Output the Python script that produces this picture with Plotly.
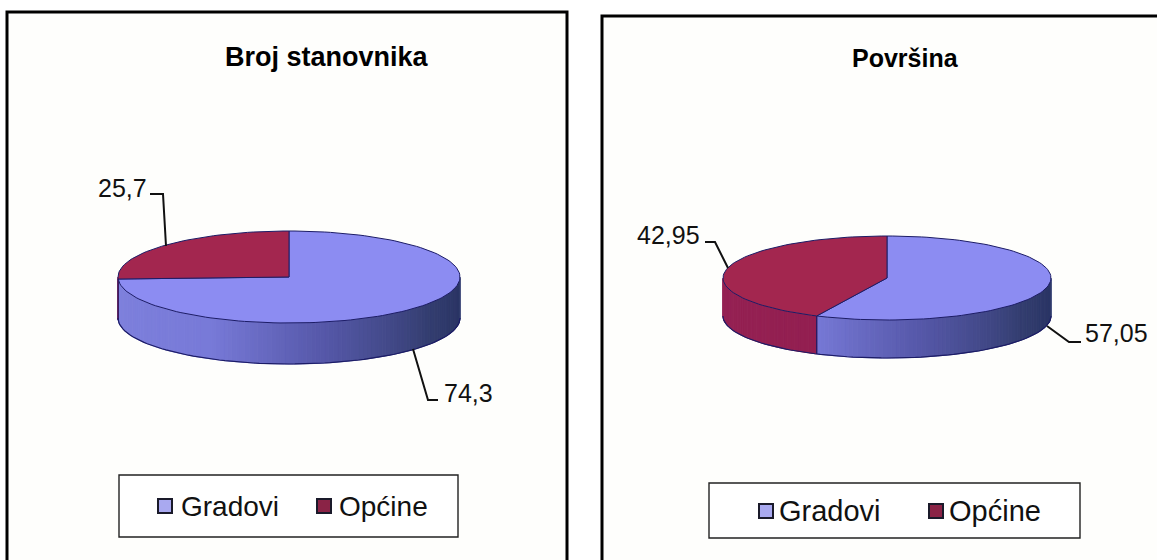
import math
import plotly.graph_objects as go

# Data
titles = ["Broj stanovnika", "Površina"]
categories = ["Gradovi", "Općine"]
gradovi = [74.3, 57.05]
opcine = [25.7, 42.95]
gradovi_labels = ["74,3", "57,05"]
opcine_labels = ["25,7", "42,95"]

# Styling / layout (pixel space of the page)
FONT = "Liberation Sans"
BLUE_TOP = "#8c8cf2"
RED_TOP = "#a3264f"
EDGE = "#1c1c66"
geom = [
    dict(cx=289, cy=277, rx=171, ry=46, depth=41),
    dict(cx=887, cy=278, rx=164, ry=42, depth=38),
]
frames = [
    dict(x0=7, y0=12, x1=567, y1=580),
    dict(x0=602, y0=16, x1=1180, y1=580),
]
title_pos = [(327, 57), (905, 58)]
title_font = [27, 25]
legend_boxes = [
    dict(x0=119, y0=475, x1=458, y1=537),
    dict(x0=709, y0=483, x1=1080, y1=538),
]
legend_items = [
    [(165, 506, 179), (324, 506, 337)],
    [(766, 511, 777), (936, 511, 947)],
]
legend_font = [28, 29]
opcine_leader = [([150, 163, 166], [194, 194, 246]), ([705, 715, 728], [242, 242, 268])]
gradovi_leader = [([413, 428, 438], [349, 400, 400]), ([1047, 1069, 1081], [326, 342, 342])]
opcine_text = [(122, 188), (668, 235)]
gradovi_text = [(468, 393), (1116, 333)]


def pt(g, deg, dy=0):
    a = math.radians(deg)
    return g["cx"] + g["rx"] * math.sin(a), g["cy"] - g["ry"] * math.cos(a) + dy


def arc(g, d0, d1, dy=0, step=2.0):
    n = max(2, int(abs(d1 - d0) / step) + 1)
    return [pt(g, d0 + (d1 - d0) * i / (n - 1), dy) for i in range(n)]


def lerp(stops, t):
    for (t0, c0), (t1, c1) in zip(stops, stops[1:]):
        if t <= t1:
            f = (t - t0) / (t1 - t0)
            return "rgb(%d,%d,%d)" % tuple(c0[i] + (c1[i] - c0[i]) * f for i in range(3))
    return "rgb(%d,%d,%d)" % stops[-1][1]


blue_side = [(0.0, (128, 130, 222)), (0.35, (120, 122, 216)), (0.55, (88, 90, 172)),
             (0.8, (52, 62, 112)), (0.95, (42, 52, 100)), (1.0, (70, 80, 130))]
red_side = [(0.0, (150, 34, 84)), (0.5, (146, 30, 80)), (1.0, (120, 26, 66))]

fig = go.Figure()


def poly(points, color, line=None, width=0):
    xs, ys = zip(*points)
    fig.add_trace(go.Scatter(
        x=list(xs) + [xs[0]], y=list(ys) + [ys[0]], mode="lines", fill="toself",
        fillcolor=color, line=dict(color=line or color, width=width if line else 1),
        hoverinfo="skip", showlegend=False))


def line(xs, ys, color="#111111", width=2):
    fig.add_trace(go.Scatter(x=xs, y=ys, mode="lines", line=dict(color=color, width=width),
                             hoverinfo="skip", showlegend=False))


annotations = []


def text(x, y, s, size=25, bold=False, xanchor="center", color="#111111"):
    annotations.append(dict(x=x, y=y, xref="x", yref="y", text=f"<b>{s}</b>" if bold else s,
                            showarrow=False, xanchor=xanchor, yanchor="middle",
                            font=dict(family=FONT, size=size, color=color)))


for i, g in enumerate(geom):
    split = 360.0 * gradovi[i] / (gradovi[i] + opcine[i])
    # side wall: only the visible lower half, split in slim strips for the shading
    breaks = [90.0 + 1.5 * k for k in range(121)]
    if 90 < split < 270:
        breaks = sorted(set(breaks + [split]))
    for d, e in zip(breaks, breaks[1:]):
        mid = (d + e) / 2
        t = 1 - (mid - 90) / 180
        col = lerp(blue_side, t) if mid < split else lerp(red_side, t)
        poly(arc(g, d, e, 0, 1.0) + arc(g, e, d, g["depth"], 1.0), col)
    # wall outlines
    xy = arc(g, 90, 270, g["depth"])
    line([p[0] for p in xy], [p[1] for p in xy], EDGE, 1.2)
    sp = pt(g, split)
    if 90 < split < 270:
        line([sp[0], sp[0]], [sp[1], sp[1] + g["depth"]], EDGE, 1.2)
    # top face
    c = (g["cx"], g["cy"])
    poly([c] + arc(g, 0, split), BLUE_TOP, EDGE, 1.0)
    poly([c] + arc(g, split, 360), RED_TOP, EDGE, 1.0)
    # leader lines and labels
    line(*opcine_leader[i])
    line(*gradovi_leader[i])
    text(*opcine_text[i], opcine_labels[i])
    text(*gradovi_text[i], gradovi_labels[i])
    text(*title_pos[i], titles[i], size=title_font[i], bold=True, color="#000000")
    # legend
    for (mx, my, tx), name, col in zip(legend_items[i], categories, ["#a9a9f0", "#8a2346"]):
        fig.add_trace(go.Scatter(x=[mx], y=[my], mode="markers", name=name, showlegend=False,
                                 hoverinfo="skip",
                                 marker=dict(symbol="square", size=14, color=col,
                                             line=dict(color="#1a1a2a", width=2))))
        text(tx, my, name, size=legend_font[i], xanchor="left")

shapes = []
for f in frames:
    shapes.append(dict(type="rect", layer="below", line=dict(color="#000000", width=3),
                       fillcolor="#fefefc", **f))
for b in legend_boxes:
    shapes.append(dict(type="rect", layer="below", line=dict(color="#222222", width=1.4),
                       fillcolor="#ffffff", **b))

fig.update_layout(
    width=1157, height=560, margin=dict(l=0, r=0, t=0, b=0),
    paper_bgcolor="#ffffff", plot_bgcolor="#ffffff",
    xaxis=dict(range=[0, 1157], visible=False, fixedrange=True),
    yaxis=dict(range=[560, 0], visible=False, fixedrange=True),
    showlegend=False, shapes=shapes, annotations=annotations,
)
fig.write_html("out.html", post_script="document.body.style.margin='0';",
               config={"displayModeBar": False})
